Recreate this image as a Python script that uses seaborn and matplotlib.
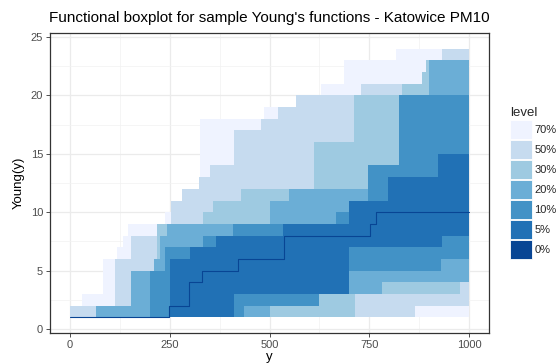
import numpy as np
import pandas as pd
import matplotlib
matplotlib.use("Agg")
import matplotlib.pyplot as plt
from matplotlib.patches import Patch
from matplotlib.ticker import MultipleLocator
import seaborn as sns

# Band levels (outermost first) and their fills
levels = ["70%", "50%", "30%", "20%", "10%", "5%", "0%"]
level_colors = ["#eff3ff", "#c6dbef", "#9ecae1", "#6baed6", "#4292c6", "#2171b5", "#084594"]

# Step functions: each value holds from its breakpoint up to the next one
upper_x_70 = [0, 29, 83, 119, 133, 146, 237, 252, 281, 325, 485, 567, 629, 687, 817]
upper_v_70 = [2, 3, 6, 7, 8, 9, 10, 11, 12, 18, 19, 20, 21, 23, 24]
lower_x_70 = [0]
lower_v_70 = [1]

upper_x_50 = [0, 112, 154, 218, 252, 281, 323, 350, 412, 479, 521, 567, 729, 883, 893, 933]
upper_v_50 = [2, 6, 8, 9, 11, 12, 13, 14, 17, 18, 19, 20, 21, 22, 23, 24]
lower_x_50 = [0, 864]
lower_v_50 = [1, 2]

upper_x_30 = [0, 65, 154, 211, 218, 333, 358, 429, 612, 712, 833, 883, 893]
upper_v_30 = [1, 2, 5, 6, 9, 10, 11, 12, 16, 20, 21, 22, 23]
lower_x_30 = [0, 715, 977]
lower_v_30 = [1, 3, 4]

upper_x_20 = [0, 65, 154, 211, 225, 242, 500, 548, 748, 825, 900]
upper_v_20 = [1, 2, 5, 6, 8, 9, 11, 12, 14, 20, 23]
lower_x_20 = [0, 502, 625, 782]
lower_v_20 = [1, 2, 3, 4]

upper_x_10 = [0, 200, 237, 333, 408, 667, 698, 748, 825]
upper_v_10 = [1, 5, 7, 8, 9, 10, 11, 14, 20]
lower_x_10 = [0, 437, 625, 700, 929]
lower_v_10 = [1, 2, 3, 5, 6]

upper_x_5 = [0, 250, 300, 367, 533, 698, 798, 923]
upper_v_5 = [1, 6, 7, 8, 9, 11, 13, 15]
lower_x_5 = [0, 412, 700, 933]
lower_v_5 = [1, 3, 7, 8]

median_x = [0, 248, 298, 331, 422, 536, 752, 767]
median_v = [1, 2, 4, 5, 6, 8, 9, 10]

x_end = 1000

bands = [
    (upper_x_70, upper_v_70, lower_x_70, lower_v_70),
    (upper_x_50, upper_v_50, lower_x_50, lower_v_50),
    (upper_x_30, upper_v_30, lower_x_30, lower_v_30),
    (upper_x_20, upper_v_20, lower_x_20, lower_v_20),
    (upper_x_10, upper_v_10, lower_x_10, lower_v_10),
    (upper_x_5, upper_v_5, lower_x_5, lower_v_5),
]

# Common grid of every breakpoint
grid = sorted(set(sum([ux + lx for ux, _, lx, _ in bands], []) + median_x + [x_end]))
grid = np.array(grid, dtype=float)


def step_eval(bx, bv, g):
    idx = np.searchsorted(np.asarray(bx, dtype=float), g, side="right") - 1
    return np.asarray(bv, dtype=float)[idx]


sns.set_theme(style="whitegrid")
plt.rcParams["font.family"] = ["Liberation Sans", "DejaVu Sans"]

fig = plt.figure(figsize=(5.6, 3.63), dpi=100)
ax = fig.add_axes([50 / 560, 1 - 333 / 363, 439 / 560, 300 / 363])

for (ux, uv, lx, lv), col in zip(bands, level_colors[:-1]):
    hi = step_eval(ux, uv, grid)
    lo = step_eval(lx, lv, grid)
    ax.fill_between(grid, lo, hi, step="post", color=col, linewidth=0, zorder=2)

median_df = pd.DataFrame({"y": grid, "young": step_eval(median_x, median_v, grid)})
sns.lineplot(data=median_df, x="y", y="young", drawstyle="steps-post",
             color=level_colors[-1], linewidth=0.8, estimator=None, ax=ax, zorder=3)

ax.set_xlim(-50, 1050)
ax.set_ylim(-0.35, 25.35)
ax.set_xticks([0, 250, 500, 750, 1000])
ax.set_yticks([0, 5, 10, 15, 20, 25])
ax.xaxis.set_minor_locator(MultipleLocator(125))
ax.yaxis.set_minor_locator(MultipleLocator(2.5))
ax.grid(which="major", color="#ebebeb", linewidth=0.9, zorder=0)
ax.grid(which="minor", color="#f2f2f2", linewidth=0.5, zorder=0)
ax.set_axisbelow(True)
ax.set_facecolor("white")
for s in ax.spines.values():
    s.set_color("#333333")
    s.set_linewidth(0.9)
ax.tick_params(axis="both", which="major", labelsize=8, labelcolor="#4d4d4d",
               length=3, width=0.6, color="#333333", pad=2, bottom=True, left=True)
ax.tick_params(axis="both", which="minor", length=0)

ax.set_xlabel("y", fontsize=9.5, color="black", labelpad=0.5)
ax.set_ylabel("Young(y)", fontsize=9.5, color="black", labelpad=4)
ax.set_title("Functional boxplot for sample Young's functions - Katowice PM10",
             fontsize=11, color="black", pad=8)

handles = [Patch(facecolor=c, edgecolor="white", linewidth=0.6) for c in level_colors]
leg = fig.legend(handles, levels, title="level", loc="upper left",
                 bbox_to_anchor=(506 / 560, 1 - 103 / 363), frameon=False,
                 fontsize=8, title_fontsize=9.5, handlelength=1.9, handleheight=2.27,
                 labelspacing=0.08, handletextpad=0.25, borderaxespad=0)
leg._legend_box.align = "left"

fig.savefig("out.png", dpi=100)
